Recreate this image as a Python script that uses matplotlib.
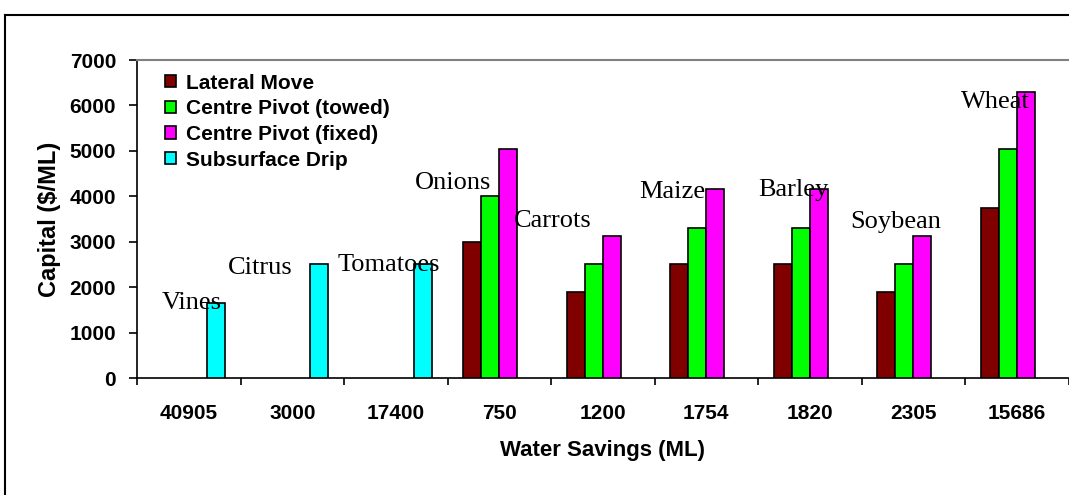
import numpy as np
import matplotlib
matplotlib.use("Agg")
import matplotlib.pyplot as plt
from matplotlib.lines import Line2D

# -----------------------------------------------------
# DADOS
# -----------------------------------------------------

savings = ["40905", "3000", "17400", "750", "1200", "1754", "1820", "2305", "15686"]
crops = ["Vines", "Citrus", "Tomatoes", "Onions", "Carrots", "Maize", "Barley", "Soybean", "Wheat"]

lateral = [np.nan, np.nan, np.nan, 3000, 1900, 2500, 2500, 1900, 3750]
pivot_towed = [np.nan, np.nan, np.nan, 4000, 2500, 3300, 3300, 2500, 5050]
pivot_fixed = [np.nan, np.nan, np.nan, 5050, 3125, 4170, 4170, 3125, 6300]
drip = [1650, 2500, 2500, np.nan, np.nan, np.nan, np.nan, np.nan, np.nan]

series_names = ["Lateral Move", "Centre Pivot (towed)", "Centre Pivot (fixed)", "Subsurface Drip"]
series_colors = ["#800000", "#00FF00", "#FF00FF", "#00FFFF"]

# posição dos rótulos das culturas (x em categorias, y em $/ML)
crop_x = [0.03, 0.69, 1.93, 2.55, 3.52, 4.67, 5.84, 6.83, 7.79]
crop_y = [1650, 2420, 2490, 4300, 3450, 4100, 4140, 3440, 6080]

# -----------------------------------------------------
# FIGURA
# -----------------------------------------------------

W, H = 1069, 495
fig = plt.figure(figsize=(W / 100, H / 100), dpi=100)

# moldura externa
fig.add_artist(Line2D([5 / W, 5 / W], [0, 1 - 15 / H], color="black", lw=1.5))
fig.add_artist(Line2D([5 / W, 1], [1 - 15 / H, 1 - 15 / H], color="black", lw=1.5))

ax = fig.add_axes([137 / W, 117 / H, 931.5 / W, 318 / H])

sans = ["Liberation Sans Narrow", "Liberation Sans", "DejaVu Sans"]
serif = ["Liberation Serif", "DejaVu Serif"]

x = np.arange(len(savings))
w = 0.175
todas = [lateral, pivot_towed, pivot_fixed, drip]
for i, vals in enumerate(todas):
    ax.bar(x + (i - 1.5) * w, vals, width=w, color=series_colors[i],
           edgecolor="black", linewidth=1.2, label=series_names[i], zorder=3)

for nome, cx, cy in zip(crops, crop_x, crop_y):
    ax.text(cx, cy, nome, ha="center", va="center", fontsize=19,
            family=serif, zorder=4)

ax.set_xlim(-0.5, len(savings) - 0.5)
ax.set_ylim(0, 7000)

ax.set_xticks(x)
ax.set_xticklabels(savings, family=sans, fontweight="bold", fontsize=15)
ax.set_xticks(np.arange(-0.5, len(savings)), minor=True)
ax.tick_params(axis="x", which="major", length=0, pad=19)
ax.tick_params(axis="x", which="minor", length=5, width=1.2, direction="out")

ax.set_yticks(np.arange(0, 7001, 1000))
ax.set_yticklabels([str(v) for v in range(0, 7001, 1000)], family=sans,
                   fontweight="bold", fontsize=15)
ax.tick_params(axis="y", length=6, width=1.2, direction="out", pad=9)

ax.spines["left"].set_linewidth(1.2)
ax.spines["bottom"].set_linewidth(1.2)
ax.spines["top"].set_color("#808080")
ax.spines["top"].set_linewidth(1.5)
ax.spines["right"].set_visible(False)

ax.set_xlabel("Water Savings (ML)", family=sans, fontweight="bold",
              fontsize=16, labelpad=12)
ax.set_ylabel("Capital ($/ML)", family=sans, fontweight="bold",
              fontsize=17, labelpad=6)

leg = ax.legend(loc="upper left", bbox_to_anchor=(0.015, 1.0), frameon=False,
                prop={"family": sans, "weight": "bold", "size": 15},
                handlelength=0.55, handleheight=0.55, handletextpad=0.5,
                labelspacing=0.32, borderaxespad=0.25)

fig.savefig("out.png", dpi=100)
